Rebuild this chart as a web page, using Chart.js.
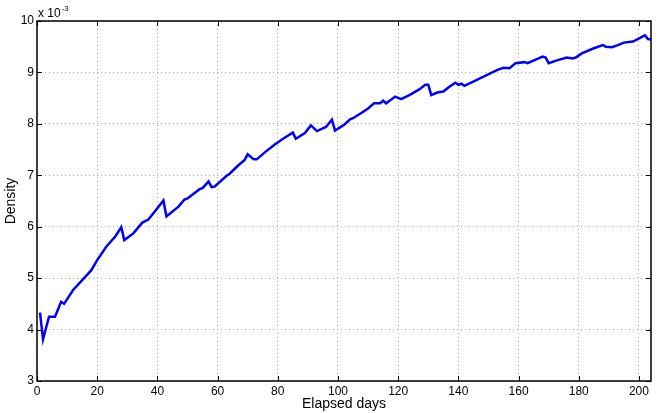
<!DOCTYPE html>
<html>
<head>
<meta charset="utf-8">
<script src="https://cdn.jsdelivr.net/npm/chart.js@4"></script>
<style>
  html, body { margin: 0; padding: 0; background: #fff; }
  #wrap { width: 658px; height: 413px; }
</style>
</head>
<body>
<div id="wrap"><canvas id="c" width="658" height="413"></canvas></div>
<script>
// Elapsed days and density (values in units of 10^-3)
const days = [1,2,4,6,8,9,12,18,20,23,26,28,29,32,35,37,40,42,43,47,49,50,54,55,57,58,59,63,64,67,69,70,72,73,76,79,82,85,86,89,91,93,96,98,99,102,104,105,108,110,112,114,115,116,119,121,124,127,129,130,131,133,135,137,139,140,141,142,147,153,155,157,159,162,163,168,169,170,173,176,178,179,181,185,188,189,191,193,195,198,201,202,203,204];
const density = [4.33,3.81,4.25,4.25,4.54,4.50,4.77,5.15,5.35,5.61,5.81,5.99,5.74,5.87,6.08,6.14,6.36,6.51,6.20,6.39,6.53,6.55,6.73,6.75,6.88,6.77,6.78,6.99,7.03,7.20,7.30,7.41,7.31,7.31,7.46,7.60,7.72,7.83,7.71,7.82,7.97,7.86,7.94,8.08,7.87,7.98,8.09,8.11,8.22,8.30,8.40,8.40,8.45,8.40,8.53,8.48,8.57,8.67,8.76,8.76,8.56,8.61,8.63,8.72,8.80,8.76,8.78,8.74,8.88,9.05,9.09,9.08,9.18,9.20,9.18,9.31,9.29,9.18,9.24,9.29,9.27,9.29,9.37,9.47,9.53,9.50,9.49,9.53,9.58,9.60,9.69,9.72,9.65,9.64];
const xTicks = [0,20,40,60,80,100,120,140,160,180,200];
const yTicks = [3,4,5,6,7,8,9,10];
const xLabel = 'Elapsed days';
const yLabel = 'Density';
const expBase = 'x 10';
const expPower = '-3';

const FONT = '"Liberation Sans", Arial, Helvetica, sans-serif';

const boxPlugin = {
  id: 'matlabBox',
  afterDraw(chart) {
    const {ctx, chartArea: a, scales} = chart;
    const xs = scales.x, ys = scales.y;
    ctx.save();
    ctx.strokeStyle = '#000';
    ctx.lineWidth = 1;
    const tl = 5;
    ctx.beginPath();
    xTicks.forEach(v => {
      const px = Math.round(xs.getPixelForValue(v)) + 0.5;
      ctx.moveTo(px, a.bottom); ctx.lineTo(px, a.bottom - tl);
      ctx.moveTo(px, a.top); ctx.lineTo(px, a.top + tl);
    });
    yTicks.forEach(v => {
      const py = Math.round(ys.getPixelForValue(v)) + 0.5;
      ctx.moveTo(a.left, py); ctx.lineTo(a.left + tl, py);
      ctx.moveTo(a.right, py); ctx.lineTo(a.right - tl, py);
    });
    ctx.stroke();
    ctx.lineWidth = 1.5;
    ctx.strokeRect(a.left, a.top, a.right - a.left, a.bottom - a.top);
    ctx.fillStyle = '#000';
    ctx.textBaseline = 'alphabetic';
    ctx.textAlign = 'left';
    ctx.font = '12px ' + FONT;
    const bx = a.left + 1, by = a.top - 4;
    ctx.fillText(expBase, bx, by);
    const w = ctx.measureText(expBase).width;
    ctx.font = '8px ' + FONT;
    ctx.fillText(expPower, bx + w + 1, by - 6);
    ctx.restore();
  }
};

new Chart(document.getElementById('c'), {
  type: 'line',
  data: {
    datasets: [{
      data: days.map((d, i) => ({x: d, y: density[i]})),
      borderColor: '#0000ff',
      borderWidth: 2.5,
      pointRadius: 0,
      tension: 0,
      fill: false
    }]
  },
  options: {
    responsive: false,
    animation: false,
    devicePixelRatio: 1,
    layout: { padding: { top: 21, right: 7, left: 0, bottom: 0 } },
    plugins: { legend: { display: false }, tooltip: { enabled: false } },
    scales: {
      x: {
        type: 'linear',
        min: 0, max: 204,
        afterBuildTicks: s => { s.ticks = xTicks.map(v => ({value: v})); },
        afterFit: s => { s.height = 32; },
        grid: { color: '#a8a8a8', lineWidth: 1, drawTicks: false },
        border: { display: false, dash: [1, 3] },
        ticks: { color: '#000', font: { family: FONT, size: 12 }, padding: 3, maxRotation: 0, autoSkip: false },
        title: { display: true, text: xLabel, color: '#000', font: { family: FONT, size: 14 }, padding: { top: 0, bottom: 0 } }
      },
      y: {
        type: 'linear',
        min: 3, max: 10,
        afterBuildTicks: s => { s.ticks = yTicks.map(v => ({value: v})); },
        afterFit: s => { s.width = 37; },
        grid: { color: '#a8a8a8', lineWidth: 1, drawTicks: false },
        border: { display: false, dash: [1, 3] },
        ticks: { color: '#000', font: { family: FONT, size: 12 }, padding: 3, autoSkip: false },
        title: { display: true, text: yLabel, color: '#000', font: { family: FONT, size: 14 }, padding: { top: 3, bottom: 0 } }
      }
    }
  },
  plugins: [boxPlugin]
});
</script>
</body>
</html>
